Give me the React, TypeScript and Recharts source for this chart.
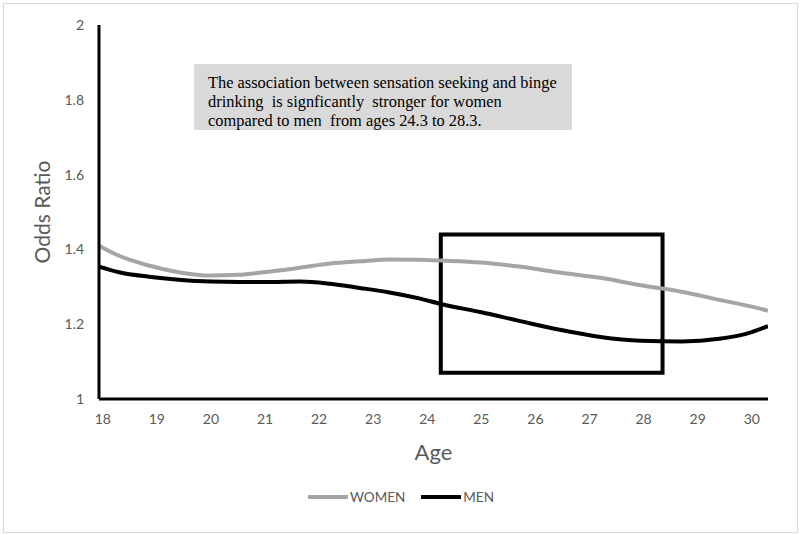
import React from 'react';
import { LineChart, Line, XAxis, YAxis, ReferenceArea, Legend } from 'recharts';

const ages = [17.93, 18.3, 18.85, 19.4, 20, 20.5, 21.1, 21.65, 22.2, 22.75, 23.3, 23.85, 24.25, 25, 25.7, 26.45, 27.2, 27.95, 28.7, 29.4, 30, 30.3];
const women = [1.41, 1.383, 1.357, 1.339, 1.33, 1.332, 1.341, 1.351, 1.362, 1.368, 1.373, 1.372, 1.37, 1.365, 1.354, 1.338, 1.324, 1.304, 1.287, 1.265, 1.247, 1.236];
const men = [1.354, 1.339, 1.327, 1.319, 1.314, 1.313, 1.313, 1.314, 1.308, 1.297, 1.285, 1.269, 1.254, 1.232, 1.209, 1.185, 1.166, 1.156, 1.154, 1.161, 1.179, 1.195];
const xTicks = [18, 19, 20, 21, 22, 23, 24, 25, 26, 27, 28, 29, 30];
const yTicks = [1, 1.2, 1.4, 1.6, 1.8, 2];
const boxAges = [24.25, 28.35];
const boxOdds = [1.07, 1.44];
const noteLines = [
  'The association between sensation seeking and binge',
  'drinking  is signficantly  stronger for women',
  'compared to men  from ages 24.3 to 28.3.',
];

const data = ages.map((a, i) => ({ age: a, WOMEN: women[i], MEN: men[i] }));

const FONT = 'Lato, "Open Sans", sans-serif';
const GREY_TXT = '#595959';

const LegendContent = () => (
  <div style={{ display: 'flex', alignItems: 'center', fontFamily: FONT, fontSize: 13.5, color: GREY_TXT }}>
    <svg width={40} height={6}><line x1={0} y1={3} x2={40} y2={3} stroke="#a5a5a5" strokeWidth={4} /></svg>
    <span style={{ marginLeft: 2, marginRight: 16 }}>WOMEN</span>
    <svg width={40} height={6}><line x1={0} y1={3} x2={40} y2={3} stroke="#000" strokeWidth={4} /></svg>
    <span style={{ marginLeft: 2 }}>MEN</span>
  </div>
);

export default function App() {
  return (
    <div style={{ position: 'absolute', left: 0, top: 0, width: 800, height: 535, background: '#fff' }}>
      <div style={{ position: 'absolute', left: 3, top: 3, width: 793, height: 528, border: '1px solid #d9d9d9' }} />
      <LineChart width={800} height={535} data={data} margin={{ top: 25, right: 32, left: 0, bottom: 0 }}>
        <XAxis
          dataKey="age"
          type="number"
          domain={[17.93, 30.3]}
          ticks={xTicks}
          allowDataOverflow
          axisLine={{ stroke: '#000', strokeWidth: 3 }}
          tickLine={false}
          tick={{ fill: GREY_TXT, fontSize: 14, fontFamily: FONT }}
          tickMargin={9}
          height={120}
          label={{ value: 'Age', position: 'insideTop', offset: 45, fill: GREY_TXT, fontSize: 22, fontFamily: FONT }}
        />
        <YAxis
          type="number"
          domain={[1, 2]}
          ticks={yTicks}
          allowDataOverflow
          axisLine={{ stroke: '#000', strokeWidth: 3 }}
          tickLine={false}
          tick={{ fill: GREY_TXT, fontSize: 14, fontFamily: FONT }}
          tickMargin={9}
          width={99}
          label={{ value: 'Odds Ratio', angle: -90, position: 'insideLeft', offset: 43, fill: GREY_TXT, fontSize: 21, fontFamily: FONT, style: { textAnchor: 'middle' } }}
        />
        <ReferenceArea x1={boxAges[0]} x2={boxAges[1]} y1={boxOdds[0]} y2={boxOdds[1]} fill="none" fillOpacity={0} stroke="#000" strokeWidth={4} ifOverflow="visible" />
        <Line type="monotone" dataKey="WOMEN" stroke="#a5a5a5" strokeWidth={4} dot={false} isAnimationActive={false} />
        <Line type="monotone" dataKey="MEN" stroke="#000" strokeWidth={4} dot={false} isAnimationActive={false} />
        <Legend content={<LegendContent />} wrapperStyle={{ position: 'absolute', left: 308, top: 489, width: 'auto', height: 16 }} />
      </LineChart>
      <div style={{ position: 'absolute', left: 194, top: 64, width: 378, height: 66, background: '#d9d9d9', boxSizing: 'border-box', padding: '9px 0 0 14px', fontFamily: '"Liberation Serif", "Times New Roman", serif', fontSize: 16.4, lineHeight: '19px', color: '#000' }}>
        {noteLines.map((l, i) => (
          <div key={i} style={{ whiteSpace: 'pre' }}>{l}</div>
        ))}
      </div>
    </div>
  );
}
